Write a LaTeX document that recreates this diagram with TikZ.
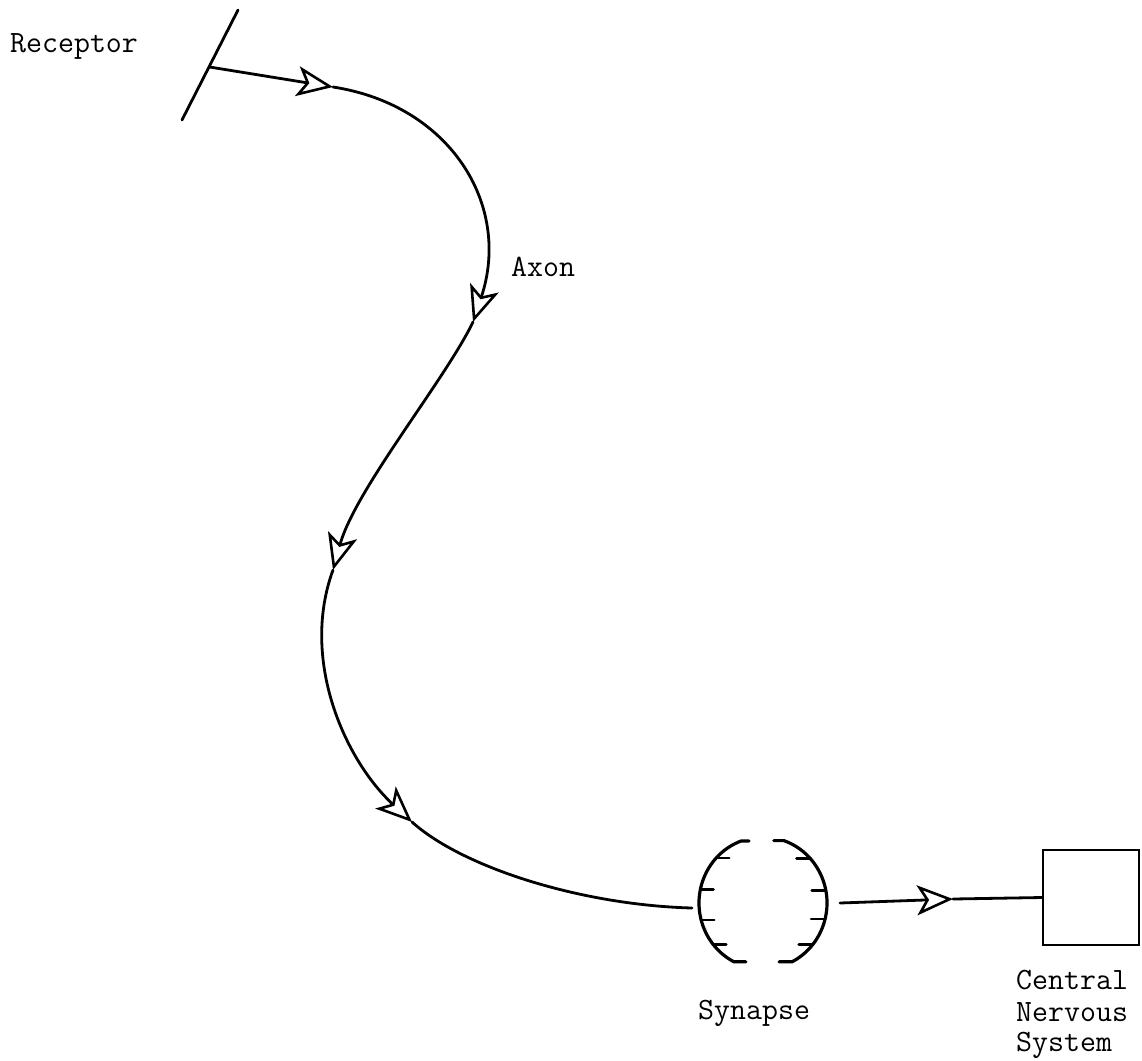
\documentclass[tikz,border=0pt]{standalone}
\usepackage{fontspec}
\usetikzlibrary{arrows.meta}
\begin{document}
\begin{tikzpicture}[x=1pt,y=-1pt,
  nerve/.style={line width=2.8pt, line cap=round},
  tipped/.style={nerve, -{Stealth[open, length=36pt, width=30pt, inset=9pt, line width=2.6pt]}},
  synarc/.style={line width=3.2pt, line cap=round},
  tick/.style={line width=2.8pt, line cap=round},
  lbl/.style={font=\fontsize{31}{31}\selectfont\ttfamily, inner sep=0pt, anchor=base west}]
\useasboundingbox (0,0) rectangle (1142,1060);
% receptor
\coordinate (rtop) at (238,10);
\coordinate (rbot) at (182,120);
\coordinate (rj) at (209.5,67);
\draw[nerve] (rtop) -- (rbot);
% axon points
\coordinate (a1) at (333,87);
\coordinate (a2) at (473,322);
\coordinate (a3) at (333,570);
\coordinate (a4) at (412,822);
\coordinate (synin) at (692,908);
\coordinate (synout) at (840,903);
\coordinate (a5) at (953,899);
\coordinate (syn) at (763,903);
% CNS box
\node[draw, line width=2.2pt, minimum width=96pt, minimum height=95pt, inner sep=0pt] (cns) at (1091,897.5) {};
% axon
\draw[tipped] (rj) -- (a1);
\draw[tipped] (a1) .. controls (450,105) and (512,205) .. (a2);
\draw[tipped] (a2) .. controls (445,380) and (355,490) .. (a3);
\draw[tipped] (a3) .. controls (300,660) and (345,760) .. (a4);
\draw[nerve] (a4) .. controls (462,867) and (580,905) .. (synin);
\draw[tipped] (synout) -- (a5);
\draw[nerve] (a5) -- (cns.west);
% synapse
\draw[synarc] ([shift={(250:64 and 66)}]syn) ++(8,0) -- ++(-8,0) arc[start angle=250, end angle=117, x radius=64, y radius=66] -- ++(12,0);
\draw[synarc] ([shift={(-71:64 and 66)}]syn) ++(-10,0) -- ++(10,0) arc[start angle=-71, end angle=63, x radius=64, y radius=66] -- ++(-13,0);
\foreach \a in {223,192,165,141} \draw[tick] ([shift={(\a:64 and 66)}]syn) -- ++(13,0);
\foreach \a in {-42,-11,14,39} \draw[tick] ([shift={(\a:64 and 66)}]syn) -- ++(-14,0);
% labels
\node[lbl] (receptor) at (10,52) {Receptor};
\node[lbl] (axon) at (511,276) {Axon};
\node[lbl] (synapse) at (698,1019) {Synapse};
\node[lbl] (cnsa) at (1016,989) {Central};
\node[lbl] (cnsb) at (1016,1021) {Nervous};
\node[lbl] (cnsc) at (1016,1051) {System};
\end{tikzpicture}
\end{document}
